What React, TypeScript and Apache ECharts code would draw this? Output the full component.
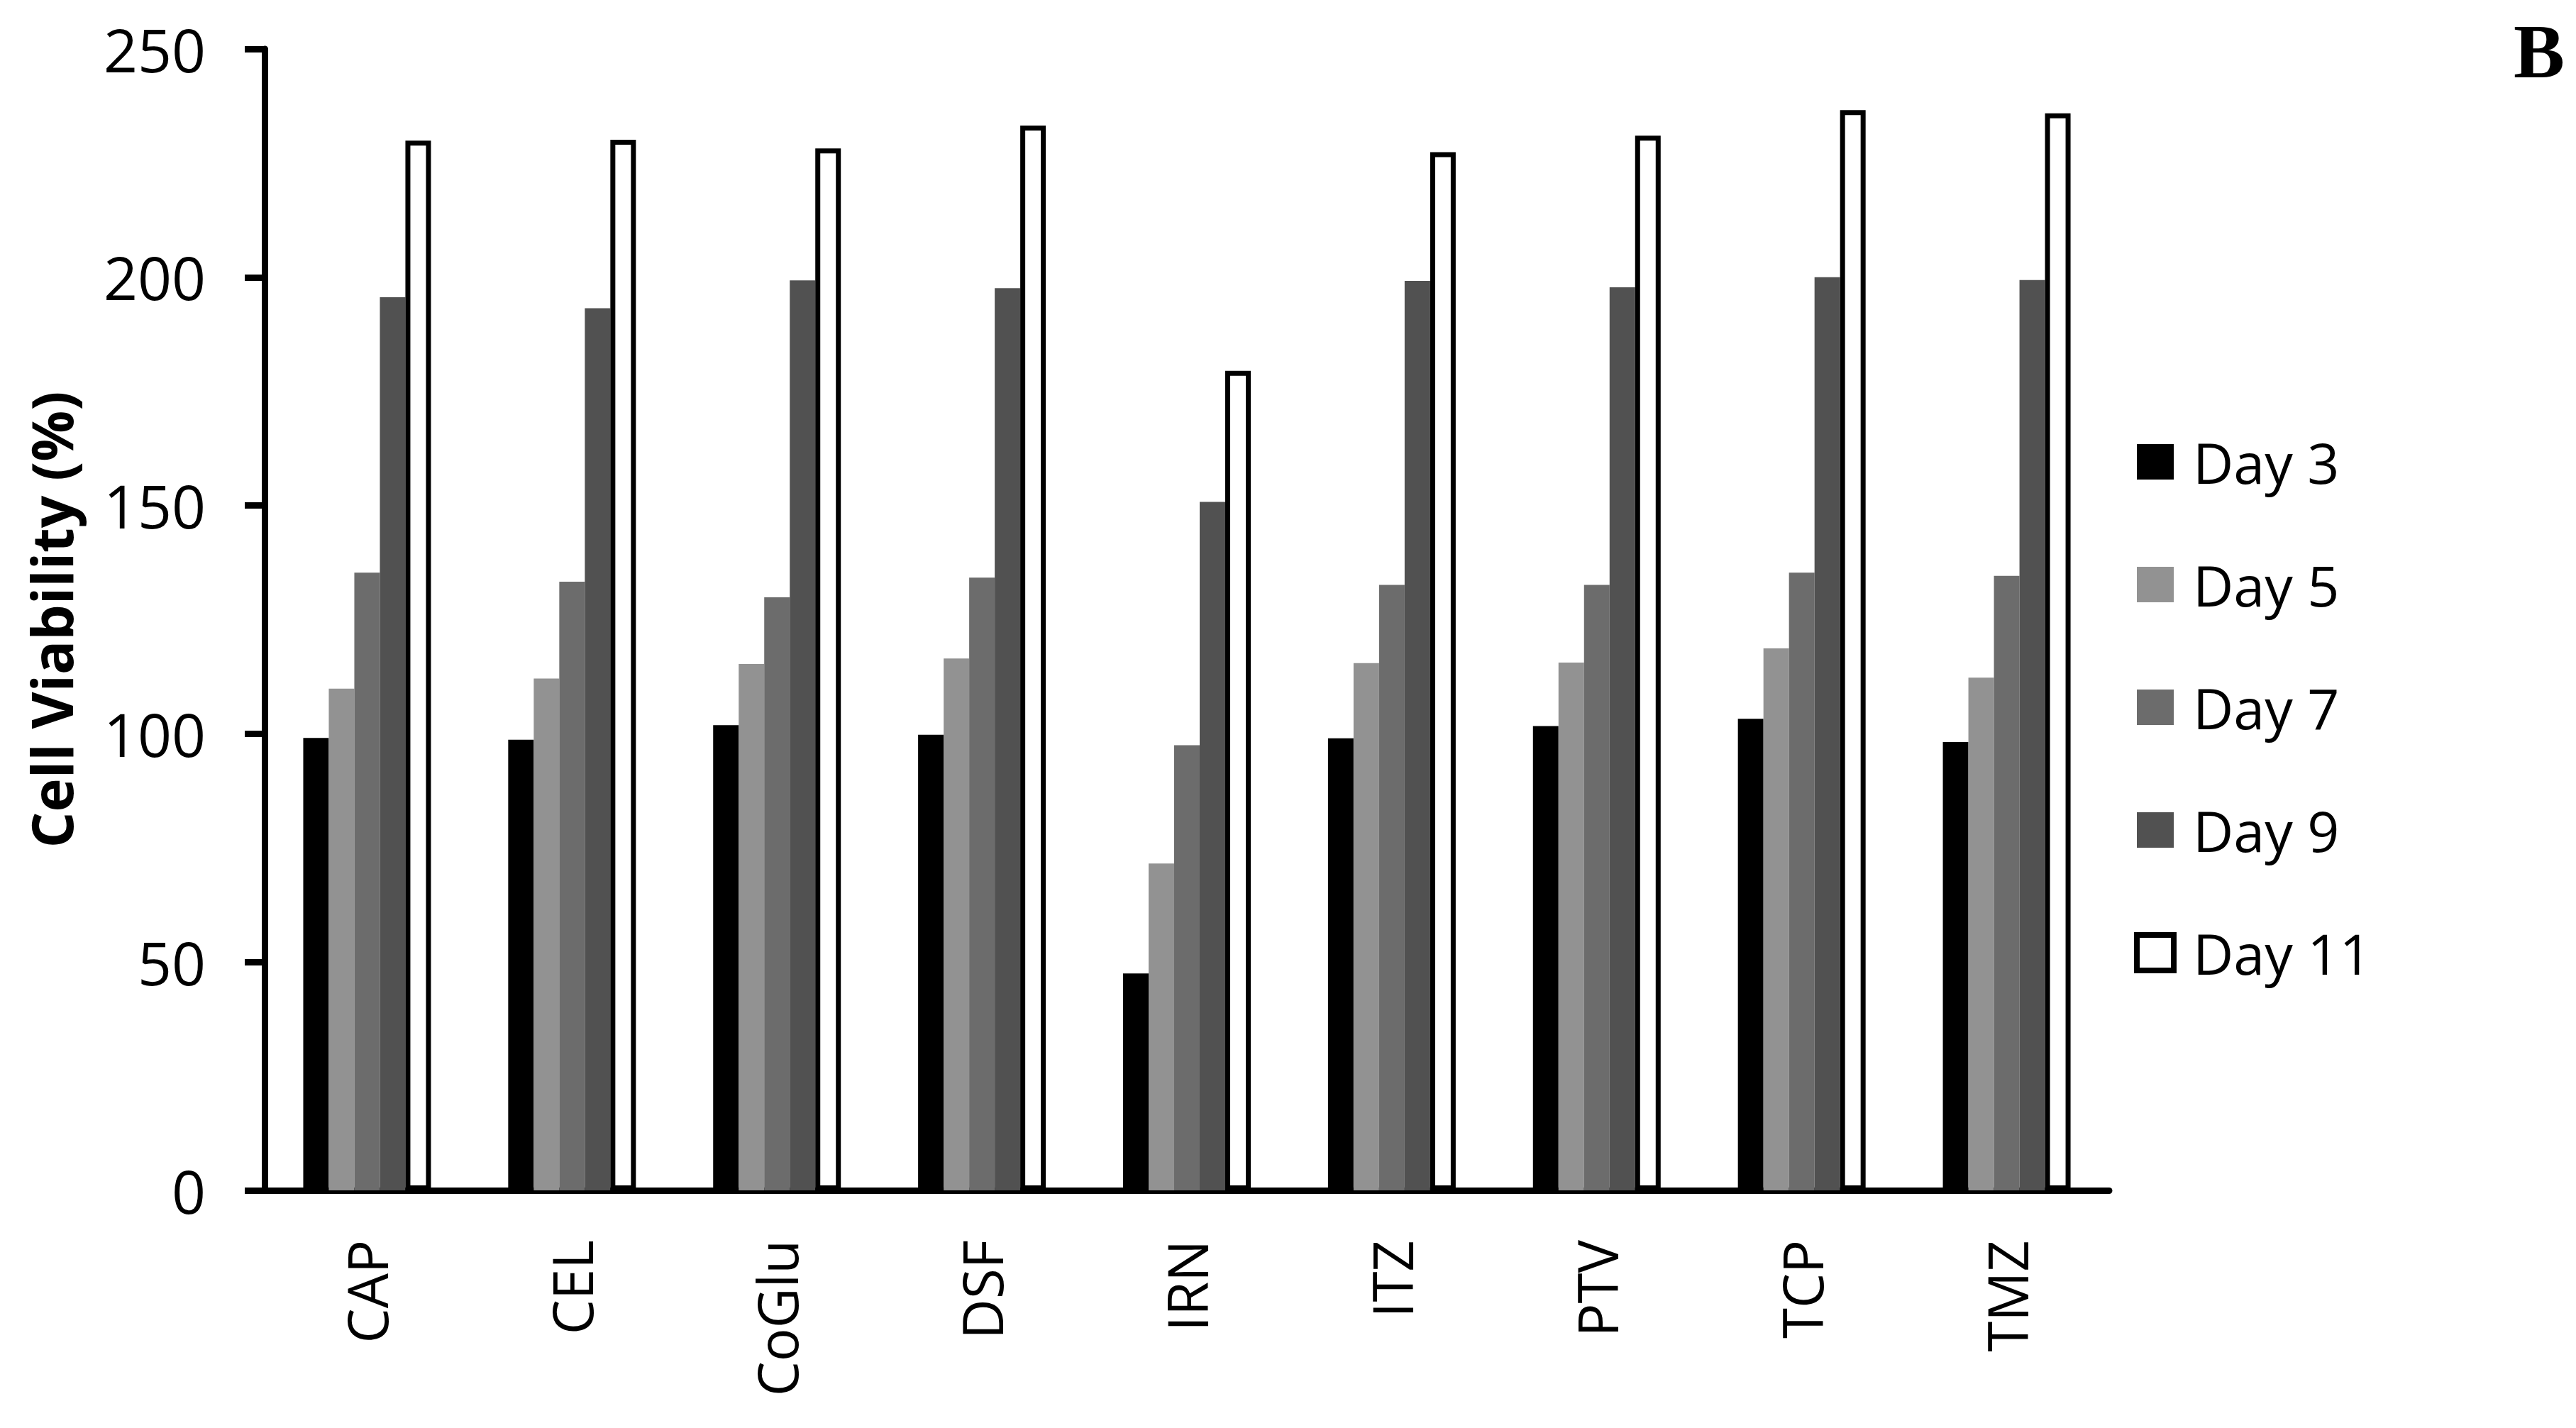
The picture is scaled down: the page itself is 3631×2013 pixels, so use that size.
import React, { useEffect, useRef } from "react";
import * as echarts from "echarts";

const categories = ["CAP", "CEL", "CoGlu", "DSF", "IRN", "ITZ", "PTV", "TCP", "TMZ"];
const seriesNames = ["Day 3", "Day 5", "Day 7", "Day 9", "Day 11"];
const day3 = [99.1, 98.7, 101.9, 99.8, 47.5, 99.0, 101.7, 103.3, 98.2];
const day5 = [109.9, 112.1, 115.3, 116.5, 71.6, 115.5, 115.6, 118.7, 112.3];
const day7 = [135.3, 133.3, 129.9, 134.2, 97.5, 132.6, 132.6, 135.3, 134.6];
const day9 = [195.6, 193.2, 199.3, 197.6, 150.8, 199.2, 197.8, 200.0, 199.4];
const day11 = [229.9, 230.1, 228.2, 233.2, 179.5, 227.4, 231.0, 236.6, 235.9];
const yTicks = [0, 50, 100, 150, 200, 250];

const FONT = "Open Sans";

export default function App() {
  const ref = useRef<HTMLDivElement>(null);
  useEffect(() => {
    if (!ref.current) return;
    const chart = echarts.init(ref.current, null, { renderer: "svg" });
    const data = [day3, day5, day7, day9, day11];
    const fills = ["#000000", "#929292", "#6c6c6c", "#515151", "#ffffff"];
    const series = data.map((d, i) => ({
      name: seriesNames[i],
      type: "bar",
      data: d,
      barWidth: 36,
      barGap: "0%",
      itemStyle:
        i === 4
          ? { color: "#ffffff", borderColor: "#000000", borderWidth: 7 }
          : { color: fills[i] },
    }));
    chart.setOption({
      animation: false,
      backgroundColor: "#ffffff",
      grid: { left: 373, right: 658, top: 69, bottom: 335, containLabel: false },
      legend: {
        orient: "vertical",
        left: 3003,
        top: 606,
        icon: "rect",
        itemWidth: 52,
        itemHeight: 50,
        itemGap: 93,
        textStyle: {
          fontFamily: FONT,
          fontSize: 79,
          color: "#000000",
          lineHeight: 80,
          padding: [0, 0, 0, 22],
        },
        data: seriesNames.map((n, i) =>
          i === 4
            ? { name: n, itemStyle: { color: "#ffffff", borderColor: "#000000", borderWidth: 8 } }
            : { name: n }
        ),
      },
      xAxis: {
        type: "category",
        data: categories,
        axisLine: { show: true, lineStyle: { color: "#000000", width: 9 } },
        axisTick: { show: false },
        axisLabel: {
          rotate: 90,
          margin: 70,
          fontFamily: FONT,
          fontSize: 78,
          color: "#000000",
        },
      },
      yAxis: {
        type: "value",
        min: 0,
        max: 250,
        interval: 50,
        name: "Cell Viability (%)",
        nameLocation: "middle",
        nameGap: 262,
        nameRotate: 90,
        nameTextStyle: {
          fontFamily: FONT,
          fontWeight: "bold",
          fontSize: 80,
          color: "#000000",
        },
        axisLine: { show: true, lineStyle: { color: "#000000", width: 9 } },
        axisTick: { show: true, inside: false, length: 28, lineStyle: { color: "#000000", width: 9 } },
        splitLine: { show: false },
        axisLabel: {
          margin: 83,
          fontFamily: FONT,
          fontSize: 84,
          color: "#000000",
          formatter: (v: number) => (yTicks.includes(v) ? String(v) : ""),
        },
      },
      graphic: [
        {
          type: "text",
          left: 3543,
          top: 18,
          style: {
            text: "B",
            fontFamily: "Liberation Serif",
            fontWeight: "bold",
            fontSize: 108,
            fill: "#000000",
          },
        },
      ],
      series,
    });
    return () => chart.dispose();
  }, []);
  return (
    <div
      ref={ref}
      style={{ position: "fixed", left: 0, top: 0, width: 3631, height: 2013, background: "#fff" }}
    />
  );
}
